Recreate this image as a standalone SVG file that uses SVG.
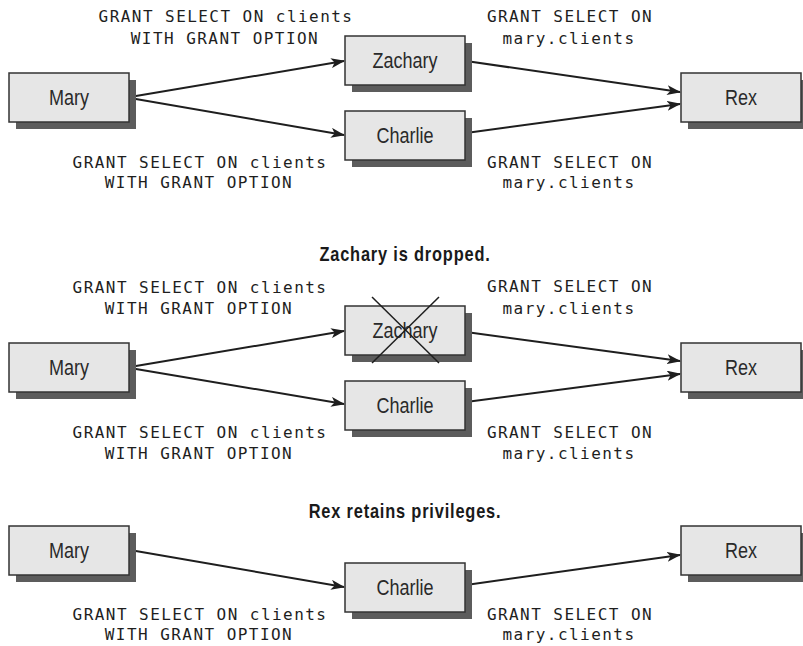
<svg xmlns="http://www.w3.org/2000/svg" width="803" height="646" viewBox="0 0 803 646">
  <style>
    .box { fill: #e6e6e6; stroke: #333; stroke-width: 1.5; }
    .shadow { fill: #5c5c5c; }
    .name { font-family: "Liberation Sans", Arial, sans-serif; font-size: 22px; fill: #2a2a2a; text-anchor: middle; }
    .sql { font-family: "DejaVu Sans Mono", monospace; font-size: 16px; letter-spacing: 1.45px; fill: #1e1e1e; text-anchor: middle; }
    .title { font-family: "Liberation Sans", Arial, sans-serif; font-weight: bold; font-size: 20px; letter-spacing: 1px; fill: #1a1a1a; text-anchor: middle; }
    .edge { stroke: #1e1e1e; stroke-width: 2; fill: none; marker-end: url(#arrow); }
    .cross { stroke: #1e1e1e; stroke-width: 1.5; fill: none; }
  </style>
  <defs>
    <marker id="arrow" markerUnits="userSpaceOnUse" viewBox="0 0 14 10" refX="13" refY="5" markerWidth="14" markerHeight="10" orient="auto">
      <path d="M0,0 L14,5 L0,10 L3.5,5 Z" fill="#1e1e1e"/>
    </marker>
    <g id="nodebox">
      <rect class="shadow" x="7" y="7" width="120" height="49"/>
      <rect class="box" x="0" y="0" width="120" height="49"/>
    </g>
  </defs>

  <rect width="803" height="646" fill="#ffffff"/>

  <!-- Stage 1: both Zachary and Charlie grant to Rex -->
  <g id="stage1">
    <g id="connectors1">
      <line class="edge" x1="130" y1="97" x2="344" y2="61"/>
      <line class="edge" x1="130" y1="98" x2="344" y2="135"/>
      <line class="edge" x1="466" y1="61" x2="680" y2="92"/>
      <line class="edge" x1="466" y1="133" x2="680" y2="104"/>
    </g>
    <g id="mary1">
      <use href="#nodebox" x="9" y="73"/>
      <text class="name" transform="matrix(0.82 0 0 1 69 105)">Mary</text>
    </g>
    <g id="zachary1">
      <use href="#nodebox" x="345" y="36"/>
      <text class="name" transform="matrix(0.82 0 0 1 405 68)">Zachary</text>
    </g>
    <g id="charlie1">
      <use href="#nodebox" x="345" y="111"/>
      <text class="name" transform="matrix(0.82 0 0 1 405 143)">Charlie</text>
    </g>
    <g id="rex1">
      <use href="#nodebox" x="681" y="73"/>
      <text class="name" transform="matrix(0.82 0 0 1 741 105)">Rex</text>
    </g>
    <g id="labels1">
      <text class="sql" x="226" y="22">GRANT SELECT ON clients</text>
      <text class="sql" x="225" y="44">WITH GRANT OPTION</text>
      <text class="sql" x="200" y="168">GRANT SELECT ON clients</text>
      <text class="sql" x="199" y="188">WITH GRANT OPTION</text>
      <text class="sql" x="570" y="22">GRANT SELECT ON</text>
      <text class="sql" x="569" y="44">mary.clients</text>
      <text class="sql" x="570" y="168">GRANT SELECT ON</text>
      <text class="sql" x="569" y="188">mary.clients</text>
    </g>
  </g>

  <!-- Stage 2: Zachary is dropped -->
  <g id="stage2">
    <text class="title" transform="matrix(0.82 0 0 1 405 261)">Zachary is dropped.</text>
    <g id="connectors2">
      <line class="edge" x1="130" y1="367" x2="344" y2="331"/>
      <line class="edge" x1="130" y1="368" x2="344" y2="404"/>
      <line class="edge" x1="466" y1="332" x2="680" y2="361"/>
      <line class="edge" x1="466" y1="402" x2="680" y2="374"/>
    </g>
    <g id="mary2">
      <use href="#nodebox" x="9" y="343"/>
      <text class="name" transform="matrix(0.82 0 0 1 69 375)">Mary</text>
    </g>
    <g id="zachary2">
      <use href="#nodebox" x="345" y="306"/>
      <text class="name" transform="matrix(0.82 0 0 1 405 338)">Zachary</text>
      <line class="cross" x1="372" y1="297" x2="439" y2="363"/>
      <line class="cross" x1="372" y1="363" x2="439" y2="297"/>
    </g>
    <g id="charlie2">
      <use href="#nodebox" x="345" y="381"/>
      <text class="name" transform="matrix(0.82 0 0 1 405 413)">Charlie</text>
    </g>
    <g id="rex2">
      <use href="#nodebox" x="681" y="343"/>
      <text class="name" transform="matrix(0.82 0 0 1 741 375)">Rex</text>
    </g>
    <g id="labels2">
      <text class="sql" x="200" y="293">GRANT SELECT ON clients</text>
      <text class="sql" x="199" y="314">WITH GRANT OPTION</text>
      <text class="sql" x="200" y="438">GRANT SELECT ON clients</text>
      <text class="sql" x="199" y="459">WITH GRANT OPTION</text>
      <text class="sql" x="570" y="292">GRANT SELECT ON</text>
      <text class="sql" x="569" y="314">mary.clients</text>
      <text class="sql" x="570" y="438">GRANT SELECT ON</text>
      <text class="sql" x="569" y="459">mary.clients</text>
    </g>
  </g>

  <!-- Stage 3: Rex keeps the grant through Charlie -->
  <g id="stage3">
    <text class="title" transform="matrix(0.82 0 0 1 405 518)">Rex retains privileges.</text>
    <g id="connectors3">
      <line class="edge" x1="130" y1="550" x2="344" y2="587"/>
      <line class="edge" x1="466" y1="585" x2="680" y2="555"/>
    </g>
    <g id="mary3">
      <use href="#nodebox" x="9" y="526"/>
      <text class="name" transform="matrix(0.82 0 0 1 69 558)">Mary</text>
    </g>
    <g id="charlie3">
      <use href="#nodebox" x="345" y="563"/>
      <text class="name" transform="matrix(0.82 0 0 1 405 595)">Charlie</text>
    </g>
    <g id="rex3">
      <use href="#nodebox" x="681" y="526"/>
      <text class="name" transform="matrix(0.82 0 0 1 741 558)">Rex</text>
    </g>
    <g id="labels3">
      <text class="sql" x="200" y="620">GRANT SELECT ON clients</text>
      <text class="sql" x="199" y="640">WITH GRANT OPTION</text>
      <text class="sql" x="570" y="620">GRANT SELECT ON</text>
      <text class="sql" x="569" y="640">mary.clients</text>
    </g>
  </g>
</svg>
